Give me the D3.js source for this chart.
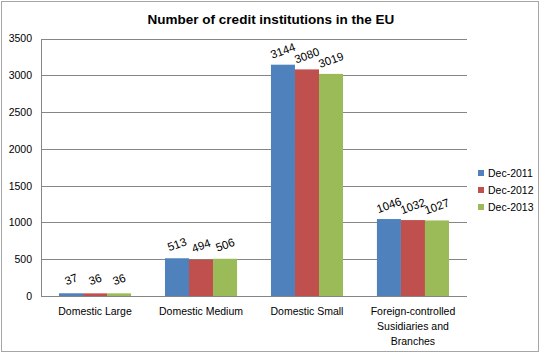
<!DOCTYPE html>
<html><head><meta charset="utf-8">
<script src="https://cdn.jsdelivr.net/npm/d3@7"></script>
<style>body{margin:0;background:#fff;} svg{display:block;}</style>
</head><body>
<svg id="c" width="542" height="356"></svg>
<script>
const categories = [["Domestic Large"],["Domestic Medium"],["Domestic Small"],["Foreign-controlled","Susidiaries and","Branches"]];
const seriesNames = ["Dec-2011","Dec-2012","Dec-2013"];
const dec2011 = [37, 513, 3144, 1046];
const dec2012 = [36, 494, 3080, 1032];
const dec2013 = [36, 506, 3019, 1027];
const yTicks = [0,500,1000,1500,2000,2500,3000,3500];
const colors = ["#4F81BD","#C0504D","#9BBB59"];
const seriesValues = [dec2011, dec2012, dec2013];

const svg = d3.select("#c");
const font = "'Liberation Sans', Arial, sans-serif";
svg.append("rect").attr("x",1.5).attr("y",1.5).attr("width",537).attr("height",350)
  .attr("fill","#fff").attr("stroke","#a6a6a6");

const L=41, R=467, T=38.5, B=296;
const x0 = d3.scaleBand().domain(d3.range(categories.length)).range([L,R]).paddingInner(0.32).paddingOuter(0.17);
const x1 = d3.scaleBand().domain(d3.range(seriesNames.length)).range([0,x0.bandwidth()]);
const y = d3.scaleLinear().domain([0,3500]).range([B,T]);

svg.append("text").attr("x",271).attr("y",24).attr("text-anchor","middle")
  .attr("font-family",font).attr("font-weight","bold").attr("font-size",13.5).text("Number of credit institutions in the EU");

const yAxis = d3.axisLeft(y).tickValues(yTicks).tickSize(-(R-L)).tickFormat(d3.format("d"));
const gy = svg.append("g").attr("transform",`translate(${L},0)`).call(yAxis);
gy.select(".domain").remove();
gy.selectAll(".tick line").attr("stroke","#868686").attr("shape-rendering","crispEdges");
gy.selectAll(".tick text").attr("x",-9).attr("font-family",font).attr("font-size",10.5).attr("fill","#000");
svg.append("line").attr("x1",L).attr("x2",L).attr("y1",T).attr("y2",B).attr("stroke","#868686").attr("shape-rendering","crispEdges");

categories.forEach((c,i)=>{
  const g = svg.append("g");
  seriesValues.forEach((vals,s)=>{
    const bx = x0(i)+x1(s);
    g.append("rect").attr("x",bx).attr("y",y(vals[i])).attr("width",x1.bandwidth()).attr("height",B-y(vals[i])).attr("fill",colors[s]);
    const cx = bx + x1.bandwidth()/2, cy = y(vals[i]) - 14;
    g.append("text").attr("transform",`translate(${cx},${cy}) rotate(-20)`).attr("text-anchor","middle")
      .attr("dy","0.35em").attr("font-family",font).attr("font-size",11.5).text(vals[i]);
  });
  const t = svg.append("text").attr("text-anchor","middle").attr("font-family",font).attr("font-size",10.5);
  c.forEach((line,k)=>{
    t.append("tspan").attr("x",x0(i)+x0.bandwidth()/2).attr("y",315+k*15).text(line);
  });
});
svg.append("line").attr("x1",L).attr("x2",R).attr("y1",B+0.5).attr("y2",B+0.5).attr("stroke","#868686");

const lg = svg.append("g");
seriesNames.forEach((n,s)=>{
  lg.append("rect").attr("x",478).attr("y",170+s*17).attr("width",6).attr("height",6).attr("fill",colors[s]);
  lg.append("text").attr("x",488).attr("y",173+s*17).attr("dy","0.35em").attr("font-family",font).attr("font-size",10.5).text(n);
});
</script>
</body></html>
